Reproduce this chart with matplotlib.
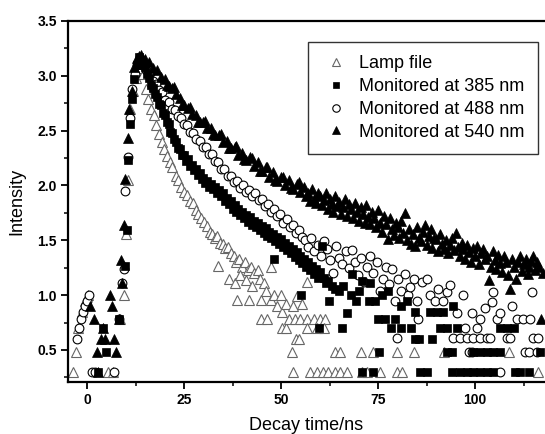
import matplotlib
matplotlib.use("Agg")
import matplotlib.pyplot as plt
from matplotlib.ticker import MultipleLocator

plt.rcParams['font.family'] = ['Liberation Sans', 'DejaVu Sans']

# Lamp file (open triangles)
lamp_t = [-3.5, -2.8, -2.2, -1.3, -0.4, 0.3, 5.5, 6.8, 8.4, 9.5, 10.0, 10.5, 11.1, 11.9, 12.5, 13.1, 13.8,
          14.5, 15.2, 15.8, 16.5, 17.2, 17.8, 18.5, 19.2, 19.9, 20.6, 21.3, 22.0, 22.8, 23.5, 24.2, 25.0,
          25.8, 26.5, 27.2, 28.0, 28.7, 29.4, 30.2, 31.0, 31.6, 32.3, 33.0, 33.6, 34.3, 35.0, 35.6, 36.3,
          37.0, 37.8, 38.5, 39.2, 40.0, 40.6, 41.4, 42.2, 43.0, 44.0, 47.3, 33.8, 36.5, 38.2, 39.5, 41.0,
          42.6, 44.6, 45.5, 38.7, 41.7, 44.7, 47.3, 46.0, 48.2, 50.0, 49.0, 50.3, 51.2, 54.0, 55.4, 56.7,
          53.0, 44.8, 46.5, 50.3, 51.2, 52.0, 53.6, 54.9, 56.7, 58.4, 60.1, 61.4, 56.7, 59.3, 61.0, 53.8,
          54.6, 52.7, 53.1,
          63.9, 65.2, 70.6, 73.6, 79.8, 84.2, 91.9, 108.6,
          57.5, 59.2, 60.9, 62.2, 63.9, 65.2, 66.9, 70.8, 72.1, 75.5, 79.8, 81.1, 116.3]
lamp_i = [0.30, 0.48, 0.70, 0.85, 0.95, 1.00, 0.30, 0.30, 0.78, 1.00, 1.56, 2.05, 2.70, 2.86, 2.98, 3.04, 3.07,
          3.02, 2.88, 2.79, 2.70, 2.64, 2.55, 2.47, 2.40, 2.33, 2.27, 2.21, 2.17, 2.09, 2.05, 1.99, 1.94,
          1.91, 1.86, 1.84, 1.78, 1.74, 1.70, 1.67, 1.63, 1.58, 1.56, 1.52, 1.54, 1.48, 1.47, 1.43, 1.44,
          1.38, 1.36, 1.30, 1.33, 1.26, 1.30, 1.23, 1.26, 1.20, 1.23, 1.26, 1.27, 1.15, 1.11, 1.18, 1.14,
          1.08, 1.15, 1.11, 0.96, 0.96, 0.96, 0.96, 1.04, 1.00, 1.00, 0.90, 0.85, 0.92, 0.99, 0.92, 1.12,
          0.90, 0.78, 0.78, 0.70, 0.70, 0.78, 0.78, 0.78, 0.78, 0.78, 0.78, 0.78, 0.70, 0.70, 0.70, 0.60,
          0.60, 0.48, 0.30,
          0.48, 0.48, 0.48, 0.48, 0.48, 0.48, 0.48, 0.48,
          0.30, 0.30, 0.30, 0.30, 0.30, 0.30, 0.30, 0.30, 0.30, 0.30, 0.30, 0.30, 0.30]

# Monitored at 385 nm (filled squares)
sq_t = [2.9, 4.0, 4.9, 8.2, 9.8, 10.2, 10.6, 11.2, 11.6, 12.2, 12.8, 13.5,
        14.0, 14.5, 15.0, 15.5, 16.0, 16.5, 17.0, 17.5, 18.0, 18.5, 19.0, 19.5, 20.0, 20.5, 21.0, 21.5,
        22.0, 22.5, 23.0, 23.5, 24.0, 24.5, 25.0, 25.5, 26.0, 26.5, 27.0, 27.5, 28.0, 28.5, 29.0, 29.5,
        30.0, 30.5, 31.0, 31.5, 32.0, 32.5, 33.0, 33.5, 34.0, 34.5, 35.0, 35.5, 36.0, 36.5, 37.0, 37.5,
        38.0, 38.5, 39.0, 39.5, 40.0, 40.5, 41.0, 41.5, 42.0, 42.5, 43.0, 43.5, 44.0, 44.5, 45.0, 45.5,
        46.0, 46.5, 47.0, 47.5, 48.0, 48.2, 48.5, 49.0, 49.5, 50.0, 50.5, 51.0, 51.5, 52.0, 52.5, 53.0,
        53.5, 54.0, 54.5, 55.0, 55.1, 55.5, 56.0, 56.5, 57.0, 57.5, 58.0, 58.5, 59.0, 59.5, 60.0, 60.6,
        61.0, 61.5, 62.0, 62.3, 63.0, 63.9, 65.0, 66.0, 67.0, 68.3, 68.0, 69.2, 70.0, 70.9, 72.6, 73.0,
        74.3, 76.0, 77.5, 59.8, 65.8, 75.1, 76.8, 79.4, 78.3, 80.8, 83.4, 81.0, 82.5, 84.5, 85.6, 84.6,
        88.9, 75.2, 70.8, 73.8, 85.9, 87.6, 88.4, 90.1, 91.8, 94.4, 91.0, 92.7, 95.3, 106.4, 108.1, 109.9,
        92.7, 94.0, 99.5, 101.3, 103.0, 104.7, 106.4, 116.7,
        94.0, 96.1, 97.8, 99.5, 101.3, 103.0, 104.7, 110.3, 111.6, 113.8]
sq_i = [0.30, 0.70, 0.48, 0.78, 1.27, 1.59, 2.23, 2.56, 2.79, 2.97, 3.10, 3.17,
        3.14, 3.10, 3.08, 3.02, 2.98, 2.92, 2.89, 2.83, 2.81, 2.74, 2.73, 2.66, 2.64, 2.58, 2.56, 2.49,
        2.48, 2.42, 2.40, 2.34, 2.33, 2.28, 2.28, 2.22, 2.24, 2.18, 2.19, 2.14, 2.15, 2.10, 2.11, 2.06,
        2.07, 2.02, 2.04, 1.99, 2.01, 1.97, 1.99, 1.93, 1.96, 1.90, 1.93, 1.86, 1.89, 1.83, 1.86, 1.79,
        1.82, 1.76, 1.79, 1.73, 1.76, 1.70, 1.73, 1.67, 1.71, 1.64, 1.68, 1.62, 1.66, 1.59, 1.63, 1.57,
        1.61, 1.54, 1.58, 1.52, 1.56, 1.33, 1.49, 1.53, 1.47, 1.51, 1.44, 1.48, 1.41, 1.45, 1.38, 1.42,
        1.35, 1.39, 1.32, 1.36, 1.00, 1.29, 1.33, 1.26, 1.30, 1.23, 1.27, 1.19, 1.24, 1.16, 1.21, 1.45,
        1.16, 1.11, 1.13, 0.95, 1.08, 1.06, 1.04, 1.08, 0.84, 1.19, 1.00, 0.95, 1.04, 1.13, 0.95, 1.11,
        0.95, 1.00, 1.04, 0.70, 0.70, 0.78, 0.78, 0.78, 0.70, 0.70, 0.70, 0.90, 0.95, 0.85, 0.60, 0.60,
        0.60, 0.48, 0.30, 0.30, 0.30, 0.30, 0.85, 0.85, 0.85, 0.90, 0.70, 0.70, 0.70, 0.70, 0.70, 0.70,
        0.48, 0.48, 0.48, 0.48, 0.48, 0.48, 0.48, 0.48,
        0.30, 0.30, 0.30, 0.30, 0.30, 0.30, 0.30, 0.30, 0.30, 0.30]

# Monitored at 488 nm (open circles)
ci_t = [-2.6, -2.0, -1.5, -1.0, -0.5, 0.0, 0.4, 1.2, 2.1, 7.0, 8.3, 8.9, 9.5, 9.9, 10.5, 11.1, 11.7, 12.3,
        13.0, 13.7,
        14.5, 15.3, 16.2, 17.0, 17.8, 18.6, 19.4, 20.2, 21.0, 21.8, 22.6, 23.4, 24.2, 25.0, 25.8, 26.6,
        27.4, 28.2, 29.0, 29.8, 30.6, 31.4, 32.2, 33.0, 33.8, 34.6, 35.4, 36.2, 37.0, 37.8, 38.6, 39.4,
        40.2, 41.0, 41.8, 42.6, 43.4, 44.2, 45.0, 45.8, 46.6, 47.4, 48.2, 49.0, 49.8, 50.6, 51.4, 52.2,
        53.0, 53.8, 54.6, 55.4,
        56.2, 57.0, 57.8, 58.6, 59.4, 60.2, 61.0, 61.8, 62.6, 63.4, 64.2, 65.0, 65.8, 66.6, 67.4, 68.2,
        69.0, 69.8, 70.6, 71.4, 72.2, 73.0, 73.8, 74.6, 75.4, 76.2, 77.0, 77.8, 78.6, 79.4, 79.9, 80.2,
        81.0, 81.8, 82.6, 83.3, 84.2, 85.0, 85.4, 86.3, 87.5, 88.4, 89.7, 90.5, 91.8, 92.7, 93.5, 95.3,
        97.0, 99.1, 100.4, 101.3, 102.6, 104.3, 104.6, 105.6, 106.4, 109.4, 110.7, 112.4, 114.2, 114.6,
        97.3,
        94.4, 96.1, 97.8, 99.5, 101.3, 103.0, 103.8, 108.1, 109.0, 115.0, 116.3,
        98.3, 99.2, 112.9, 113.8, 115.9, 106.5]
ci_i = [0.60, 0.70, 0.78, 0.85, 0.90, 0.95, 1.00, 0.30, 0.30, 0.30, 0.78, 1.11, 1.24, 1.95, 2.26, 2.62, 2.88, 3.02,
        3.10, 3.14,
        3.11, 3.05, 3.03, 2.95, 2.93, 2.87, 2.85, 2.78, 2.76, 2.70, 2.69, 2.63, 2.62, 2.56, 2.55, 2.49,
        2.48, 2.42, 2.41, 2.35, 2.35, 2.29, 2.29, 2.22, 2.21, 2.15, 2.15, 2.09, 2.09, 2.03, 2.04, 1.98,
        2.00, 1.94, 1.96, 1.90, 1.93, 1.87, 1.88, 1.81, 1.83, 1.76, 1.79, 1.72, 1.74, 1.66, 1.69, 1.62,
        1.64, 1.57, 1.59, 1.53,
        1.50, 1.44, 1.52, 1.40, 1.46, 1.36, 1.49, 1.42, 1.32, 1.20, 1.45, 1.34, 1.28, 1.40, 1.25, 1.41,
        1.30, 1.18, 1.34, 1.12, 1.26, 1.36, 1.20, 1.30, 1.04, 1.15, 1.26, 1.10, 1.24, 0.95, 0.61, 1.15,
        1.04, 1.19, 1.00, 1.07, 1.15, 0.95, 0.78, 1.12, 1.15, 1.00, 0.95, 1.06, 0.95, 1.03, 1.09, 0.84,
        1.00, 0.84, 0.70, 0.78, 0.88, 0.94, 1.03, 0.78, 0.84, 0.90, 0.78, 0.78, 0.78, 1.03,
        0.70,
        0.61, 0.61, 0.61, 0.61, 0.61, 0.61, 0.61, 0.61, 0.61, 0.61, 0.61,
        0.48, 0.48, 0.48, 0.48, 0.48, 0.30]

# Monitored at 540 nm (filled triangles)
tr_t = [0.8, 1.8, 2.5, 2.9, 3.5, 4.0, 4.7, 5.9, 6.4, 7.0, 7.5, 8.2, 8.7, 8.9, 9.4, 9.9, 10.5, 10.9, 11.5,
        12.2, 12.8, 13.5,
        14, 15, 16, 17, 18, 19, 20, 21, 22, 23, 24, 25, 26, 27, 28, 29, 30, 31, 32, 33, 34, 35, 36, 37,
        38, 39, 40, 41, 42, 43, 44, 45, 46, 47, 48, 49, 50, 51, 52, 53, 54, 55,
        20.5, 22.5, 24.5, 26.5, 28.5, 30.5, 32.5, 34.5, 36.5, 38.5, 40.5, 42.5, 44.5, 46.5, 48.5, 50.5,
        52.5, 54.5,
        56, 56.5, 57, 57.5, 58, 58.5, 59, 59.5, 60, 60.5, 61, 61.5, 62, 62.5, 63, 63.5, 64, 64.5, 65, 65.5,
        66, 66.5, 67, 67.5, 68, 68.5, 69, 69.5, 70, 70.5, 71, 71.5, 72, 72.5, 73, 73.5, 74, 74.5, 75, 75.5,
        76, 76.5, 77, 77.5, 78, 78.5, 79, 79.5, 80, 80.5, 81, 81.5, 82, 82.5, 83, 83.5, 84, 84.5, 85, 85.5,
        86, 86.5, 87, 87.5, 88, 88.5, 89, 89.5, 90, 90.5, 91, 91.5, 92, 92.5, 93, 93.5, 94, 94.5, 95, 95.5,
        96, 96.5, 97, 97.5, 98, 98.5, 99, 99.5, 100, 100.5, 101, 101.5, 102, 102.5, 103, 103.5, 104, 104.5,
        105, 105.5, 106, 106.5, 107, 107.5, 108, 108.5, 109, 109.5, 110, 110.5, 111, 111.5, 112, 112.5,
        113, 113.5, 114, 114.5, 115, 115.5, 116, 116.5, 117, 117.5]
tr_i = [0.90, 0.78, 0.48, 0.30, 0.60, 0.70, 0.60, 1.00, 0.90, 0.60, 0.48, 0.78, 1.32, 1.11, 1.64, 2.06, 2.43,
        2.70, 2.86, 3.08, 3.16, 3.18,
        3.19, 3.15, 3.13, 3.07, 3.05, 2.99, 2.97, 2.91, 2.89, 2.83, 2.80, 2.73, 2.71, 2.65, 2.64, 2.58,
        2.58, 2.52, 2.52, 2.46, 2.46, 2.40, 2.41, 2.34, 2.35, 2.28, 2.30, 2.23, 2.26, 2.18, 2.21, 2.13,
        2.17, 2.08, 2.12, 2.04, 2.08, 2.00, 2.05, 1.97, 2.01, 1.94,
        2.92, 2.90, 2.73, 2.72, 2.58, 2.59, 2.47, 2.47, 2.34, 2.36, 2.24, 2.25, 2.13, 2.17, 2.05, 2.08,
        1.98, 2.03,
        1.99, 1.90, 1.93, 1.86, 1.97, 1.88, 1.84, 1.93, 1.90, 1.82, 1.87, 1.93, 1.79, 1.88, 1.83, 1.76,
        1.90, 1.81, 1.85, 1.74, 1.80, 1.88, 1.72, 1.83, 1.79, 1.70, 1.84, 1.76, 1.68, 1.80, 1.74, 1.66,
        1.82, 1.71, 1.65, 1.76, 1.70, 1.62, 1.78, 1.66, 1.58, 1.72, 1.65, 1.51, 1.70, 1.60, 1.55, 1.66,
        1.62, 1.52, 1.68, 1.57, 1.75, 1.50, 1.60, 1.47, 1.56, 1.45, 1.62, 1.52, 1.49, 1.58, 1.64, 1.46,
        1.54, 1.60, 1.43, 1.52, 1.51, 1.40, 1.56, 1.47, 1.42, 1.50, 1.38, 1.46, 1.52, 1.41, 1.57, 1.44,
        1.36, 1.48, 1.42, 1.33, 1.46, 1.39, 1.30, 1.43, 1.36, 1.45, 1.28, 1.38, 1.42, 1.33, 1.36, 1.14,
        1.26, 1.40, 1.32, 1.24, 1.37, 1.29, 1.21, 1.36, 1.30, 1.18, 1.06, 1.33, 1.26, 1.15, 1.30, 1.36,
        1.22, 1.28, 1.33, 1.19, 1.26, 1.31, 1.36, 1.23, 1.30, 1.26, 0.78, 1.20]

fig = plt.figure(figsize=(5.45, 4.34), dpi=100)
ax = fig.add_axes([68 / 545, 52 / 434, 477 / 545, 361 / 434])

ax.plot(lamp_t, lamp_i, ls='none', marker='^', ms=7.0, mfc='white', mec='0.4', mew=0.8,
        label='Lamp file')
ax.plot(ci_t, ci_i, ls='none', marker='o', ms=6.3, mfc='white', mec='black', mew=0.8,
        label='Monitored at 488 nm')
ax.plot(sq_t, sq_i, ls='none', marker='s', ms=5.6, mfc='black', mec='black', mew=0.5,
        label='Monitored at 385 nm')
ax.plot(tr_t, tr_i, ls='none', marker='^', ms=7.0, mfc='black', mec='black', mew=0.5,
        label='Monitored at 540 nm')

ax.set_xlim(-4.9, 118.0)
ax.set_ylim(0.208, 3.5)
ax.xaxis.set_major_locator(MultipleLocator(25))
ax.xaxis.set_minor_locator(MultipleLocator(12.5))
ax.yaxis.set_major_locator(MultipleLocator(0.5))
ax.yaxis.set_minor_locator(MultipleLocator(0.25))
ax.yaxis.set_major_formatter(plt.FormatStrFormatter('%.1f'))

for side in ['left', 'bottom', 'top']:
    ax.spines[side].set_linewidth(1.6)
ax.spines['right'].set_visible(False)
ax.tick_params(which='major', direction='out', length=5, width=1.3, labelsize=10, pad=3,
               top=False, right=False)
ax.tick_params(which='minor', direction='out', length=3, width=1.1, top=False, right=False)
for lab in ax.get_xticklabels() + ax.get_yticklabels():
    lab.set_fontweight('bold')

ax.set_xlabel('Decay time/ns', fontsize=13, labelpad=7)
ax.set_ylabel('Intensity', fontsize=13, labelpad=9)

h, l = ax.get_legend_handles_labels()
order = [0, 2, 1, 3]
leg = ax.legend([h[i] for i in order], [l[i] for i in order], loc='upper left',
                bbox_to_anchor=(0.503, 0.942), borderaxespad=0, fontsize=13, frameon=True,
                fancybox=False, edgecolor='black', borderpad=0.75, handlelength=1.6,
                handletextpad=0.5, labelspacing=0.32, markerscale=0.85)
leg.get_frame().set_linewidth(1.0)

fig.savefig('out.png', dpi=100)
